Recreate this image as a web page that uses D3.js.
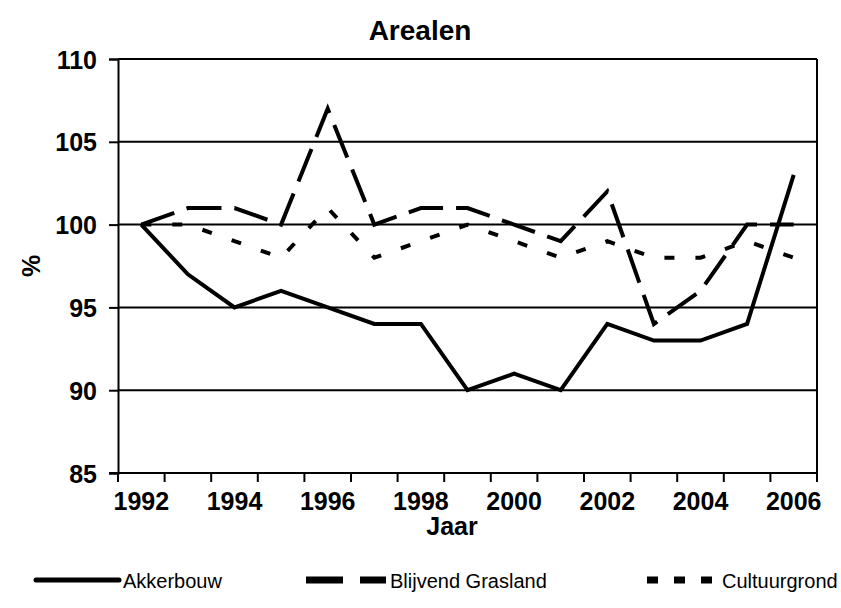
<!DOCTYPE html>
<html>
  <head>
    <title>Arealen</title>
    <script src="https://cdnjs.cloudflare.com/ajax/libs/d3/7.8.5/d3.min.js"></script>
    <style type="text/css">
        html, body{
            padding: 0px;
            margin: 0px;
            background: #fff;
            font-family: "Liberation Sans", Arial, sans-serif;
        }
        .lbl{ font-weight: bold; font-size: 25px; fill: #000; font-family: "Liberation Sans", Arial, sans-serif; }
    </style>
  </head>
  <body>
    <div id="vis"></div>
    <script type="text/javascript">

        // data
        var years = [1992, 1993, 1994, 1995, 1996, 1997, 1998, 1999, 2000, 2001, 2002, 2003, 2004, 2005, 2006];
        var akkerbouw = [100, 97, 95, 96, 95, 94, 94, 90, 91, 90, 94, 93, 93, 94, 103];
        var grasland  = [100, 101, 101, 100, 107, 100, 101, 101, 100, 99, 102, 94, 96, 100, 100];
        var cultuur   = [100, 100, 99, 98, 101, 98, 99, 100, 99, 98, 99, 98, 98, 99, 98];
        var yTicks = [85, 90, 95, 100, 105, 110];
        var xLabels = [1992, 1994, 1996, 1998, 2000, 2002, 2004, 2006];

        var width = 841, height = 608;
        var pLeft = 118, pRight = 817, pTop = 59, pBottom = 473;

        var svg = d3.select("#vis").append("svg")
            .attr("width", width)
            .attr("height", height);

        var x = d3.scaleBand().domain(years).range([pLeft, pRight]);
        var y = d3.scaleLinear().domain([85, 110]).range([pBottom, pTop]);
        var half = x.bandwidth() / 2;

        // gridlines
        svg.selectAll("line.grid")
            .data(yTicks.slice(1))
            .enter().append("line")
            .attr("x1", pLeft).attr("x2", pRight)
            .attr("y1", function(d){ return y(d); })
            .attr("y2", function(d){ return y(d); })
            .attr("stroke", "#000").attr("stroke-width", 2);

        // right border
        svg.append("line")
            .attr("x1", pRight).attr("x2", pRight)
            .attr("y1", pTop).attr("y2", pBottom)
            .attr("stroke", "#000").attr("stroke-width", 2);

        // y axis
        var yAxis = svg.append("g")
            .attr("transform", "translate(" + pLeft + ",0)")
            .call(d3.axisLeft(y).tickValues(yTicks).tickSize(9).tickPadding(12));
        yAxis.select(".domain").attr("stroke-width", 2);
        yAxis.selectAll(".tick line").attr("stroke-width", 2);
        yAxis.selectAll("text").attr("class", "lbl").attr("dy", "0.36em");

        // x axis
        var xAxis = svg.append("g")
            .attr("transform", "translate(0," + pBottom + ")")
            .call(d3.axisBottom(x).tickValues(xLabels).tickSize(0).tickPadding(19));
        xAxis.select(".domain").remove();
        xAxis.selectAll("text").attr("class", "lbl");

        svg.append("line")
            .attr("x1", pLeft - 9).attr("x2", pRight + 1)
            .attr("y1", pBottom).attr("y2", pBottom)
            .attr("stroke", "#000").attr("stroke-width", 2);

        // tick marks at category boundaries
        var bounds = years.map(function(d){ return x(d); }).concat([pRight]);
        svg.selectAll("line.xtick")
            .data(bounds)
            .enter().append("line")
            .attr("x1", function(d){ return d; })
            .attr("x2", function(d){ return d; })
            .attr("y1", pBottom).attr("y2", pBottom + 9)
            .attr("stroke", "#000").attr("stroke-width", 2);

        // series
        var line = d3.line()
            .x(function(d, i){ return x(years[i]) + half; })
            .y(function(d){ return y(d); });

        var series = [
            {name: "Akkerbouw", values: akkerbouw, dash: null, legDash: null},
            {name: "Blijvend Grasland", values: grasland, dash: "35,13", legDash: "37,17"},
            {name: "Cultuurgrond", values: cultuur, dash: "10,21", legDash: "11,16"}
        ];

        svg.selectAll("path.series")
            .data(series)
            .enter().append("path")
            .attr("d", function(d){ return line(d.values); })
            .attr("fill", "none")
            .attr("stroke", "#000")
            .attr("stroke-width", 4)
            .attr("stroke-dasharray", function(d){ return d.dash; });

        // title and axis titles
        svg.append("text")
            .attr("class", "lbl")
            .attr("x", 420).attr("y", 40)
            .attr("text-anchor", "middle")
            .style("font-size", "28px")
            .text("Arealen");

        svg.append("text")
            .attr("class", "lbl")
            .attr("x", 452).attr("y", 535)
            .attr("text-anchor", "middle")
            .text("Jaar");

        svg.append("text")
            .attr("class", "lbl")
            .attr("transform", "translate(40,266) rotate(-90)")
            .attr("text-anchor", "middle")
            .text("%");

        // legend
        var legX = [36, 306, 647];
        var legW = [83, 80, 65];
        var legGap = [4, 4, 10];
        var leg = svg.selectAll("g.leg")
            .data(series)
            .enter().append("g")
            .attr("transform", function(d, i){ return "translate(" + legX[i] + ",580)"; });

        leg.append("line")
            .attr("x1", 0)
            .attr("x2", function(d, i){ return legW[i]; })
            .attr("stroke", "#000")
            .attr("stroke-width", function(d, i){ return i == 0 ? 5 : 7; })
            .attr("stroke-linecap", function(d, i){ return i == 0 ? "round" : "butt"; })
            .attr("stroke-dasharray", function(d){ return d.legDash; });

        leg.append("text")
            .attr("x", function(d, i){ return legW[i] + legGap[i]; })
            .attr("y", 8)
            .attr("font-size", 20)
            .text(function(d){ return d.name; });

    </script>
  </body>
</html>
